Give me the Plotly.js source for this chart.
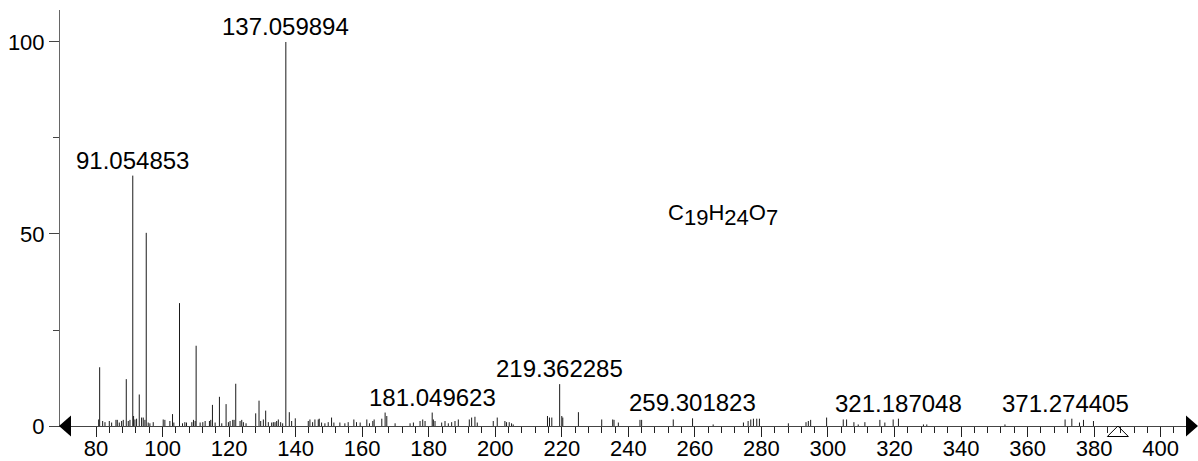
<!DOCTYPE html>
<html><head><meta charset="utf-8">
<script src="https://cdn.plot.ly/plotly-3.0.1.min.js"></script>
<style>html,body{margin:0;padding:0;background:#fff}#chart{width:1198px;height:461px}</style>
</head><body><div id="chart"></div>
<script>
// ---- data ----
const mzValues = [
  80.8, 81.1, 82.0, 82.7, 84.0, 84.7, 86.0, 86.4, 87.0, 87.7, 88.2, 89.1, 89.7, 90.2,
  91.054853, 91.3, 91.7, 92.2, 93.0, 93.7, 94.2, 94.7, 95.1, 95.7, 96.2, 97.2,
  100.2, 100.7, 102.2, 103.0, 103.4, 105.1, 106.0, 106.7, 107.2, 108.8, 109.3, 109.8, 110.1,
  111.3, 112.1, 112.8, 114.1, 114.5, 115.0, 115.8, 117.1, 117.8, 119.1, 119.8, 120.3,
  121.1, 121.5, 122.0, 123.3, 123.8, 124.3, 125.1, 128.0, 129.0, 129.5, 130.3, 131.0,
  131.8, 132.8, 133.3, 133.8, 134.3, 134.8, 135.5, 136.1, 137.059894, 138.1, 138.8, 139.9,
  143.8, 144.3, 145.1, 145.8, 146.8, 147.1, 147.8, 148.8, 149.8, 150.8, 151.5, 153.3,
  154.8, 155.8, 157.5, 158.3, 159.4, 161.4, 162.2, 163.2, 163.6, 165.9, 166.9, 167.4,
  169.9, 174.4, 175.4, 177.4, 178.2, 178.9, 181.049623, 181.4, 181.9, 183.9, 184.9, 185.9,
  186.9, 187.9, 188.9, 192.2, 192.9, 193.9, 194.6, 199.4, 200.6, 202.9, 203.4, 204.2,
  204.9, 205.4, 215.7, 216.3, 217.0, 219.362285, 220.0, 220.3, 225.0, 232.0, 235.3, 235.7,
  237.0, 243.5, 244.0, 253.5, 259.301823, 265.5, 274.6, 276.0, 276.8, 277.6, 278.6, 279.4,
  288.1, 293.4, 294.1, 294.8, 299.6, 304.6, 305.6, 307.8, 309.1, 311.1, 315.6, 317.1,
  319.6, 321.187048, 328.7, 329.7, 353.2, 371.274405, 373.3, 375.6, 376.8, 379.8
];
const intensities = [
  1.7, 15.3, 1.3, 1.0, 1.3, 0.9, 1.6, 1.6, 0.9, 1.3, 1.6, 12.2, 1.3, 1.6,
  65.2, 2.6, 1.7, 1.9, 8.2, 2.2, 2.2, 1.6, 50.3, 0.9, 0.7, 1.0,
  1.7, 1.6, 1.3, 3.1, 0.9, 32.0, 0.7, 1.0, 0.9, 1.0, 1.6, 1.3, 20.9,
  0.9, 1.0, 1.3, 1.3, 1.6, 5.5, 0.9, 7.6, 0.7, 5.7, 1.0, 1.3,
  1.6, 1.6, 11.0, 1.3, 1.6, 1.0, 0.7, 3.3, 6.6, 1.3, 1.7, 4.0,
  1.0, 0.9, 1.0, 1.0, 1.3, 1.7, 1.0, 0.7, 100, 3.6, 1.3, 2.0,
  1.3, 1.7, 1.0, 1.7, 1.7, 1.9, 0.9, 0.7, 1.0, 2.2, 0.9, 0.9,
  0.7, 1.0, 1.7, 1.0, 0.9, 1.7, 0.7, 1.3, 1.7, 1.9, 3.5, 2.6,
  0.7, 0.7, 0.9, 1.3, 1.7, 1.3, 3.5, 1.7, 1.3, 0.9, 1.3, 0.7,
  1.0, 1.3, 1.7, 1.7, 2.2, 2.4, 0.9, 1.3, 2.2, 1.3, 1.0, 1.0,
  0.7, 0.4, 2.6, 2.2, 2.2, 10.9, 2.6, 2.2, 3.6, 1.7, 1.7, 1.6,
  0.9, 1.6, 1.6, 1.7, 2.0, 0.4, 0.9, 1.3, 1.7, 1.9, 1.9, 1.9,
  0.7, 1.0, 1.3, 1.6, 2.2, 1.7, 1.7, 1.0, 0.4, 1.0, 1.6, 0.9,
  1.7, 1.9, 0.4, 0.4, 0.4, 1.7, 1.9, 0.9, 1.6, 1.3
];
const labeledMz = [91.054853, 137.059894, 181.049623, 219.362285, 259.301823, 321.187048, 371.274405];
const labelTexts = ['91.054853', '137.059894', '181.049623', '219.362285', '259.301823', '321.187048', '371.274405'];
const precursorMz = 387.14;
const formulaParts = [['C', '19'], ['H', '24'], ['O', '7']];
const xTickVals = [80, 100, 120, 140, 160, 180, 200, 220, 240, 260, 280, 300, 320, 340, 360, 380, 400];
const yTickVals = [0, 50, 100];
const yMinorVals = [25, 75];

// ---- build ----
const xs = [], ys = [];
mzValues.forEach((m, i) => { xs.push(m, m, null); ys.push(0, intensities[i], null); });

const xMinor = [];
for (let v = xTickVals[0]; v <= xTickVals[xTickVals.length - 1] + 4; v += 4) xMinor.push(v);

const FONT = '"Liberation Sans", Arial, Helvetica, sans-serif';
const annotations = labeledMz.map((m, k) => ({
  x: m, y: intensities[mzValues.indexOf(m)], xref: 'x', yref: 'y',
  text: labelTexts[k], showarrow: false, xanchor: 'center', yanchor: 'bottom',
  font: {family: FONT, size: 24, color: '#000'}
}));
const formulaHtml = formulaParts.map(p =>
  p[0] + '<sub><span style="font-size:22px">' + p[1] + '</span></sub>').join('');
annotations.push({
  x: 268.5, y: 55, xref: 'x', yref: 'y', text: formulaHtml, showarrow: false,
  xanchor: 'center', yanchor: 'middle', font: {family: FONT, size: 22, color: '#000'}
});

const data = [{
  type: 'scatter', mode: 'lines', x: xs, y: ys, connectgaps: false,
  line: {color: '#1a1a1a', width: 1}, hoverinfo: 'skip', showlegend: false
}];

const layout = {
  width: 1198, height: 461,
  margin: {l: 60, r: 4, t: 10, b: 35, pad: 0},
  paper_bgcolor: '#fff', plot_bgcolor: '#fff',
  showlegend: false,
  font: {family: FONT, size: 23, color: '#000'},
  xaxis: {
    range: [69.18, 410.02], showgrid: false, zeroline: false,
    showline: true, linecolor: '#444', linewidth: 1,
    tickmode: 'array', tickvals: xTickVals, ticktext: xTickVals.map(String),
    ticks: 'outside', ticklen: 10, tickcolor: '#222', tickwidth: 1,
    ticklabelstandoff: -7,
    tickfont: {family: FONT, size: 22, color: '#000'},
    minor: {tickmode: 'array', tickvals: xMinor, ticks: 'outside', ticklen: 6, tickcolor: '#222', tickwidth: 1, showgrid: false}
  },
  yaxis: {
    range: [0, 108.33], showgrid: false, zeroline: false,
    showline: true, linecolor: '#666', linewidth: 1,
    tickmode: 'array', tickvals: yTickVals, ticktext: yTickVals.map(String),
    ticks: 'outside', ticklen: 10, tickcolor: '#444', tickwidth: 1,
    tickfont: {family: FONT, size: 22, color: '#000'},
    minor: {tickmode: 'array', tickvals: yMinorVals, ticks: 'outside', ticklen: 6, tickcolor: '#444', tickwidth: 1, showgrid: false}
  },
  annotations: annotations,
  shapes: [
    {type: 'path', xref: 'paper', yref: 'paper', xsizemode: 'pixel', ysizemode: 'pixel',
     xanchor: 0, yanchor: 0, path: 'M-1,0 L11,10.5 L11,-10.5 Z', fillcolor: '#000', line: {width: 0}},
    {type: 'path', xref: 'paper', yref: 'paper', xsizemode: 'pixel', ysizemode: 'pixel',
     xanchor: 1, yanchor: 0, path: 'M4,0 L-8,10.5 L-8,-10.5 Z', fillcolor: '#000', line: {width: 0}},
    {type: 'path', xref: 'x', yref: 'paper', xsizemode: 'pixel', ysizemode: 'pixel',
     xanchor: precursorMz, yanchor: 0, path: 'M0,0 L10.5,-10.5 L-10.5,-10.5 Z',
     fillcolor: 'rgba(255,255,255,0)', line: {color: '#000', width: 1}}
  ]
};

Plotly.newPlot('chart', data, layout, {staticPlot: true, displayModeBar: false});
</script>
</body></html>
